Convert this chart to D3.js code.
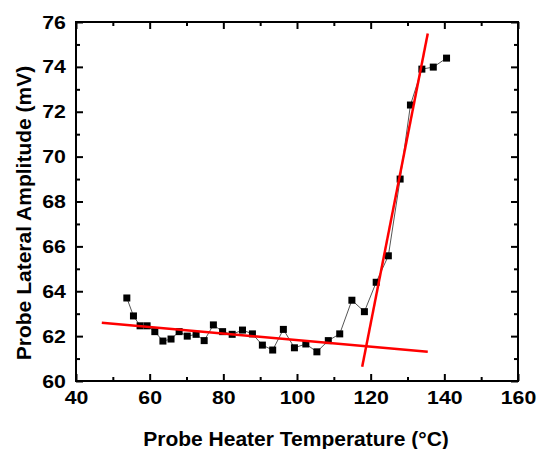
<!DOCTYPE html>
<html>
<head>
<meta charset="utf-8">
<script src="https://cdn.jsdelivr.net/npm/d3@7"></script>
<style>
  body { margin: 0; background: #fff; }
  svg text { font-family: "Liberation Sans", Arial, sans-serif; font-weight: bold; fill: #000; }
  .axis path { display: none; }
  .axis line { stroke: #000; stroke-width: 2px; }
</style>
</head>
<body>
<div id="chart-area"></div>
<script>
// measured probe signal
const temperature = [53.8, 55.6, 57.4, 59.3, 61.4, 63.6, 65.8, 68.0, 70.2, 72.6, 74.8, 77.3, 79.8,
  82.4, 85.2, 87.9, 90.6, 93.4, 96.3, 99.3, 102.4, 105.4, 108.5, 111.6, 114.9, 118.3, 121.5,
  124.8, 128.0, 130.8, 133.9, 137.0, 140.6];
const amplitude = [63.7, 62.9, 62.46, 62.46, 62.2, 61.78, 61.87, 62.2, 62.0, 62.08, 61.8, 62.5, 62.2,
  62.08, 62.27, 62.1, 61.6, 61.38, 62.3, 61.48, 61.65, 61.3, 61.8, 62.1, 63.6, 63.09, 64.4,
  65.58, 69.0, 72.3, 73.9, 73.99, 74.39];

// linear fits (end points)
const flatFit = [[47.0, 62.6], [135.5, 61.3]];
const steepFit = [[117.7, 60.64], [135.5, 75.49]];

const xTicks = [40, 60, 80, 100, 120, 140, 160];
const yTicks = [60, 62, 64, 66, 68, 70, 72, 74, 76];

const margin = {top: 22, right: 21, bottom: 68, left: 76};
const width = 539 - margin.left - margin.right;
const height = 449 - margin.top - margin.bottom;
const stretch = 1.12; // tick numbers in the original are a bit wide

const svg = d3.select("#chart-area").append("svg")
    .attr("width", 539)
    .attr("height", 449);

const g = svg.append("g")
    .attr("transform", "translate(" + margin.left + ", " + margin.top + ")");

const x = d3.scaleLinear().domain([40, 160]).range([0, width]);
const y = d3.scaleLinear().domain([60, 76]).range([height, 0]);

const minorX = d3.range(50, 160, 20);
const minorY = d3.range(61, 76, 2);

// bottom + top
g.append("g").attr("class", "axis").attr("transform", "translate(0," + height + ")")
    .call(d3.axisBottom(x).tickValues(xTicks).tickSize(-7).tickPadding(10))
    .selectAll("text").style("font-size", "19px")
    .attr("transform", "scale(" + stretch + ",1)");
g.append("g").attr("class", "axis").attr("transform", "translate(0," + height + ")")
    .call(d3.axisBottom(x).tickValues(minorX).tickSize(-4).tickFormat(""));
g.append("g").attr("class", "axis")
    .call(d3.axisTop(x).tickValues(xTicks).tickSize(-7).tickFormat(""));
g.append("g").attr("class", "axis")
    .call(d3.axisTop(x).tickValues(minorX).tickSize(-4).tickFormat(""));

// left + right
g.append("g").attr("class", "axis")
    .call(d3.axisLeft(y).tickValues(yTicks).tickSize(-7).tickPadding(9))
    .selectAll("text").style("font-size", "19px")
    .attr("transform", "scale(" + stretch + ",1)");
g.append("g").attr("class", "axis")
    .call(d3.axisLeft(y).tickValues(minorY).tickSize(-4).tickFormat(""));
g.append("g").attr("class", "axis").attr("transform", "translate(" + width + ",0)")
    .call(d3.axisRight(y).tickValues(yTicks).tickSize(-7).tickFormat(""));
g.append("g").attr("class", "axis").attr("transform", "translate(" + width + ",0)")
    .call(d3.axisRight(y).tickValues(minorY).tickSize(-4).tickFormat(""));

g.append("rect")
    .attr("width", width)
    .attr("height", height)
    .attr("fill", "none")
    .attr("stroke", "#000")
    .attr("stroke-width", 2);

const pts = temperature.map((t, i) => [t, amplitude[i]]);

const line = d3.line().x((d) => x(d[0])).y((d) => y(d[1]));

g.append("path")
    .attr("d", line(pts))
    .attr("fill", "none")
    .attr("stroke", "#555")
    .attr("stroke-width", 1);

g.selectAll("rect.pt").data(pts).enter().append("rect")
    .attr("class", "pt")
    .attr("x", (d) => x(d[0]) - 3.5)
    .attr("y", (d) => y(d[1]) - 3.5)
    .attr("width", 7)
    .attr("height", 7)
    .attr("fill", "#000");

[flatFit, steepFit].forEach((f) => {
  g.append("path")
      .attr("d", line(f))
      .attr("fill", "none")
      .attr("stroke", "#ff0000")
      .attr("stroke-width", 2.5);
});

svg.append("text")
    .attr("x", 296)
    .attr("y", 446)
    .attr("text-anchor", "middle")
    .style("font-size", "21px")
    .text("Probe Heater Temperature (°C)");

svg.append("text")
    .attr("transform", "translate(31,213) rotate(-90)")
    .attr("text-anchor", "middle")
    .style("font-size", "21px")
    .text("Probe Lateral Amplitude (mV)");
</script>
</body>
</html>
